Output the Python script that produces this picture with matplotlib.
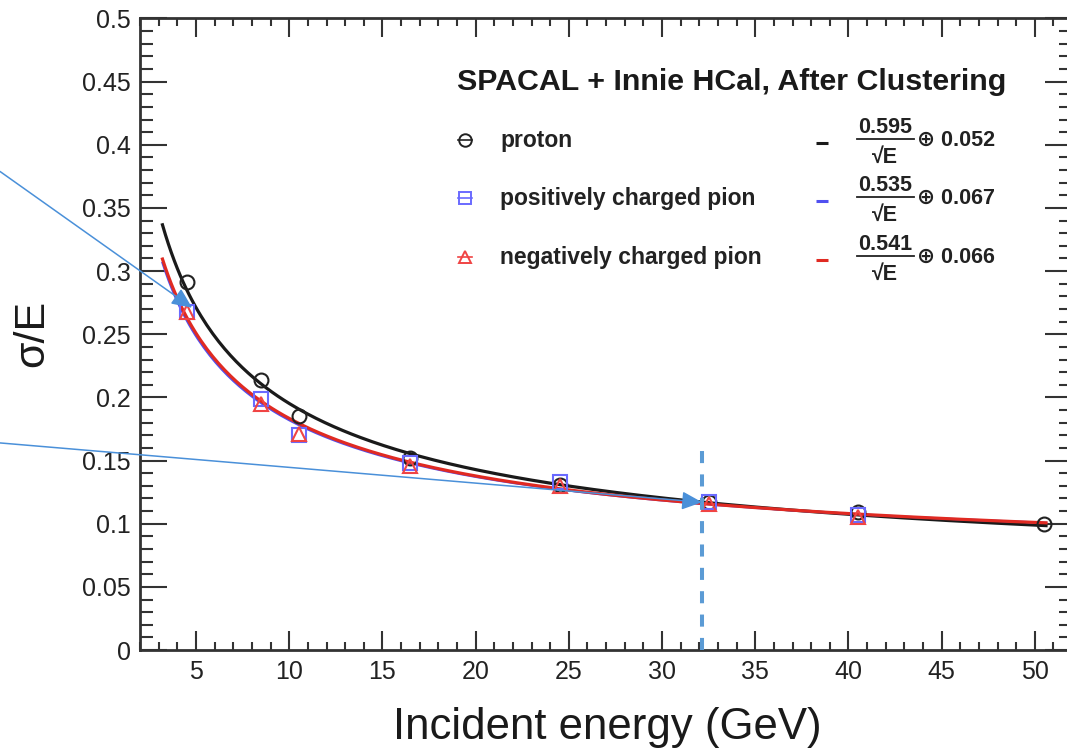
import numpy as np
import matplotlib
matplotlib.use("Agg")
import matplotlib.pyplot as plt
from matplotlib.ticker import MultipleLocator, FuncFormatter

# Data
energy = [4.5, 8.5, 10.5, 16.5, 24.5, 32.5, 40.5, 50.5]
proton = [0.291, 0.214, 0.185, 0.152, 0.131, 0.117, 0.109, 0.100]
pion_energy = [4.5, 8.5, 10.5, 16.5, 24.5, 32.5, 40.5]
pion_pos = [0.268, 0.199, 0.170, 0.148, 0.133, 0.117, 0.107]
pion_neg = [0.268, 0.195, 0.171, 0.146, 0.130, 0.116, 0.105]

labels = ["proton", "positively charged pion", "negatively charged pion"]
fit_stoch = [0.595, 0.535, 0.541]
fit_const = [0.052, 0.067, 0.066]

xticks = [5, 10, 15, 20, 25, 30, 35, 40, 45, 50]
yticks = [0, 0.05, 0.1, 0.15, 0.2, 0.25, 0.3, 0.35, 0.4, 0.45, 0.5]

title = "SPACAL + Innie HCal, After Clustering"
xlabel = "Incident energy (GeV)"
ylabel = "σ/E"

# hand-drawn annotations on top of the plot
arrow_tips = [(4.79, 0.271), (32.15, 0.117)]
arrow_starts = [(0.0, 0.772), (0.0, 0.411)]
cut_energy = 32.15
cut_top = 0.16

colors = ["#1a1a1a", "#5050f0", "#e02a22"]
marker_colors = ["#222222", "#6a6aff", "#f04444"]
markers = ["o", "s", "^"]
anno_blue = "#4a90d9"

SANS = ["Liberation Sans", "DejaVu Sans"]
plt.rcParams["font.family"] = SANS

fig = plt.figure(figsize=(10.67, 7.52), dpi=100)
ax = fig.add_axes([0.1313, 0.1356, 0.8735, 0.8398])

# fit curves sigma/E = a/sqrt(E) (+) b
e_fit = np.linspace(3.2, 50.6, 300)
for a, b, c, lw in zip(fit_stoch, fit_const, colors, [2.3, 1.6, 2.3]):
    ax.plot(e_fit, np.sqrt(a ** 2 / e_fit + b ** 2), color=c, lw=lw, zorder=2)

series = [(energy, proton), (pion_energy, pion_pos), (pion_energy, pion_neg)]
for (xs, ys), m, mc in zip(series, markers, marker_colors):
    ax.plot(xs, ys, linestyle="none", marker=m, ms=10, mfc="none",
            mec=mc, mew=1.5, zorder=3)

ax.set_xlim(2, 52)
ax.set_ylim(0, 0.5)
ax.set_xticks(xticks)
ax.set_yticks(yticks)
ax.xaxis.set_minor_locator(MultipleLocator(1))
ax.yaxis.set_minor_locator(MultipleLocator(0.01))
ax.yaxis.set_major_formatter(FuncFormatter(lambda v, _: f"{v:g}"))

ax.tick_params(which="both", direction="in", top=True, right=True,
               width=1.5, color="#333333", labelsize=18, labelcolor="#222222")
ax.xaxis.set_tick_params(which="major", length=13.5, pad=7)
ax.xaxis.set_tick_params(which="minor", length=6)
ax.yaxis.set_tick_params(which="major", length=19.5, pad=6.5)
ax.yaxis.set_tick_params(which="minor", length=9.5)
for s in ax.spines.values():
    s.set_linewidth(2.0)
    s.set_color("#333333")

fig.text(607 / 1067, 1 - 727 / 752, xlabel, ha="center", va="center",
         fontsize=31.5, color="#1a1a1a")
fig.text(32 / 1067, 1 - 333 / 752, ylabel, ha="center", va="center",
         rotation=90, fontsize=31, color="#1a1a1a")


def axpos(px, py):
    return (px - 140.1) / 932, (650 - py) / 631.5


# legend block
tx, ty = axpos(457, 82)
ax.text(tx, ty, title, transform=ax.transAxes, ha="left", va="center",
        fontsize=21.9, fontweight="bold", color="#1a1a1a")

row_py = [140, 198, 257]
for i, py in enumerate(row_py):
    mx, my = axpos(465, py)
    half = 7 / 932
    ax.plot([mx - half, mx + half], [my, my], transform=ax.transAxes,
            color=marker_colors[i], lw=1.2, clip_on=False)
    ax.plot([mx], [my], transform=ax.transAxes, marker=markers[i], ms=9,
            mfc="none", mec=marker_colors[i], mew=1.4, clip_on=False)
    lx, _ = axpos(500, py)
    ax.text(lx, my, labels[i], transform=ax.transAxes, ha="left", va="center",
            fontsize=16.5, fontweight="bold", color="#222222")

    d0, dy = axpos(816, py + 3)
    d1, _ = axpos(828, py + 3)
    ax.plot([d0, d1], [dy, dy], transform=ax.transAxes, color=colors[i],
            lw=2.2, solid_capstyle="butt", clip_on=False)

    fx, _ = axpos(885, py)
    _, ny = axpos(885, py - 13)
    _, dny = axpos(885, py + 17)
    b0, by = axpos(857, py - 1)
    b1, _ = axpos(914, py - 1)
    ax.text(fx, ny, f"{fit_stoch[i]:.3f}", transform=ax.transAxes,
            ha="center", va="center", fontsize=15.5, fontweight="bold",
            color="#222222")
    ax.plot([b0, b1], [by, by], transform=ax.transAxes, color="#222222",
            lw=1.3, clip_on=False)
    ax.text(fx, dny, "√E", transform=ax.transAxes, ha="center", va="center",
            fontsize=15.5, fontweight="bold", color="#222222", family=SANS)
    ox, _ = axpos(917, py)
    ax.text(ox, my, f"\u2295 {fit_const[i]:.3f}", transform=ax.transAxes,
            ha="left", va="center", fontsize=15.5, fontweight="bold",
            color="#222222", family=SANS)

# blue annotations
ax.vlines(cut_energy, 0, cut_top, colors="#5b9bd5", lw=2.9,
          linestyles=(0, (3, 2.8)), zorder=4)
for tip, start in zip(arrow_tips, arrow_starts):
    ax.annotate("", xy=tip, xycoords="data", xytext=start,
                textcoords="figure fraction", annotation_clip=False,
                arrowprops=dict(arrowstyle="-|>,head_length=0.62,head_width=0.28",
                                mutation_scale=20, lw=1.1, color=anno_blue,
                                shrinkA=0, shrinkB=0), zorder=5)

fig.savefig("out.png", dpi=100)
